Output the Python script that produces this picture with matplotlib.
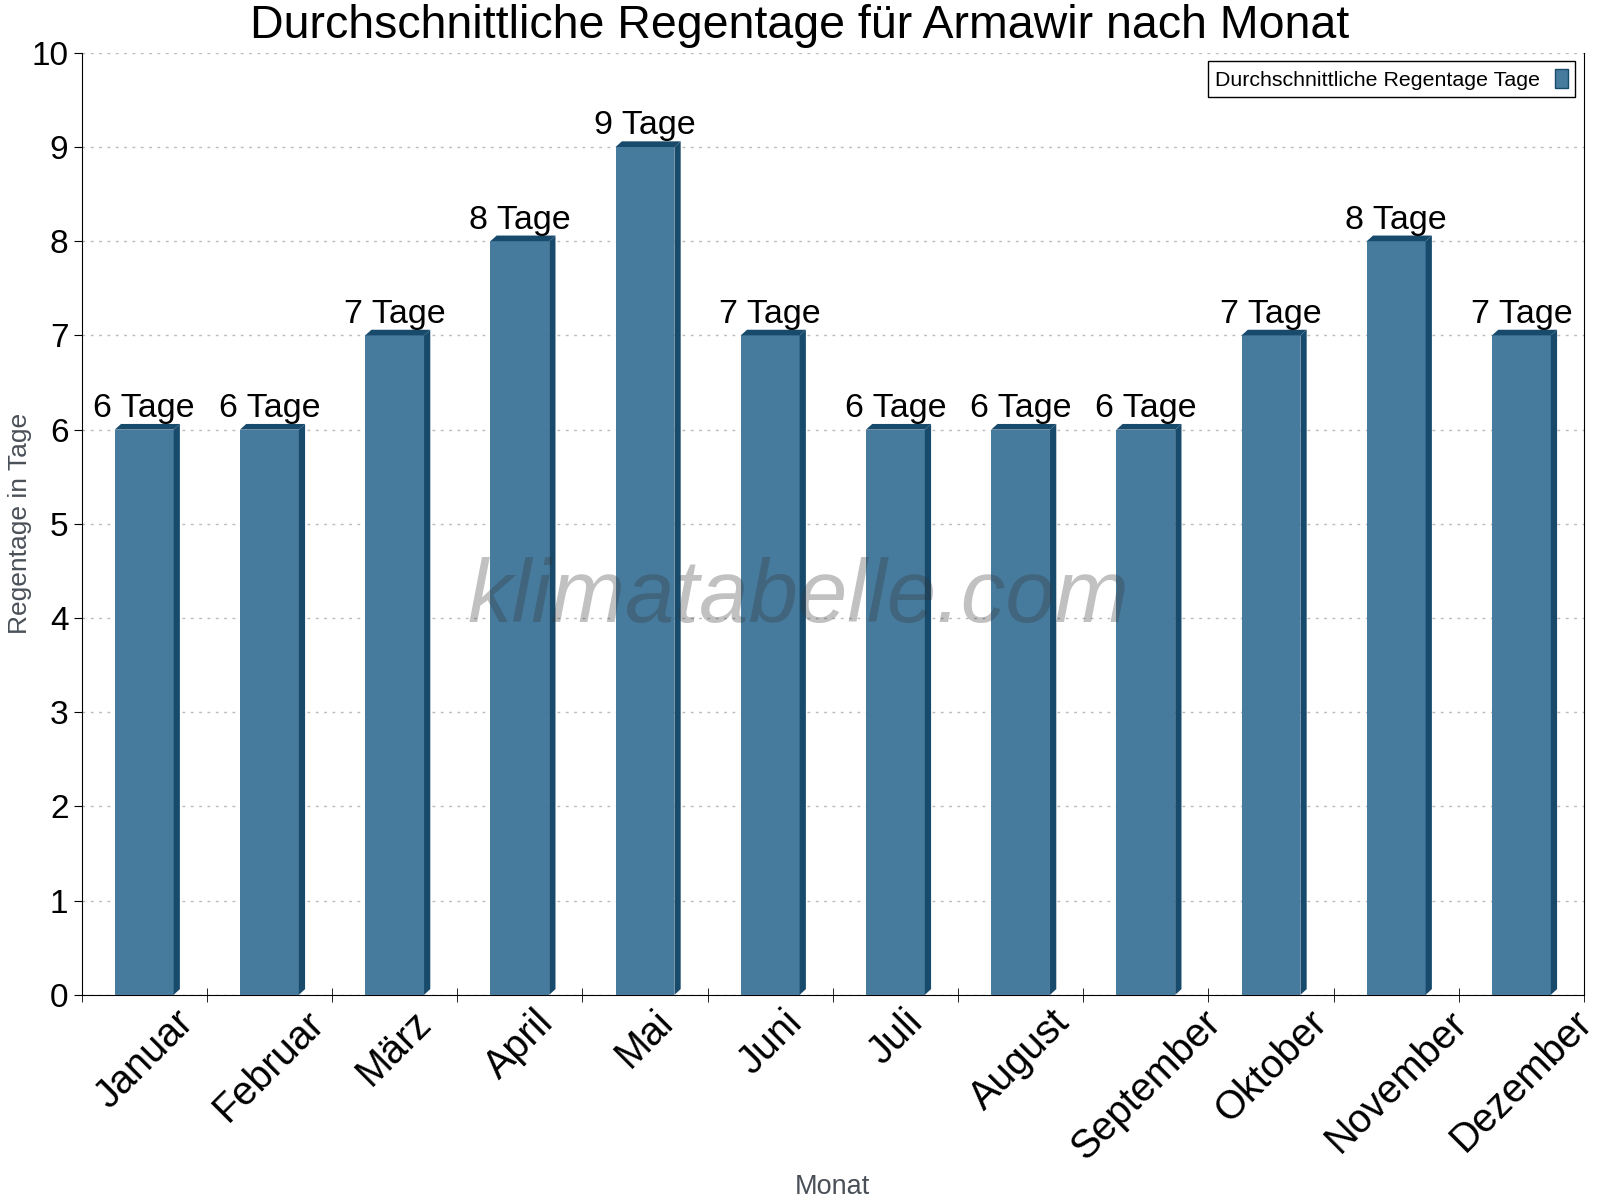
import matplotlib.pyplot as plt
from matplotlib.patches import Polygon

plt.rcParams['font.family'] = ['Liberation Sans', 'DejaVu Sans']

monate = ['Januar', 'Februar', 'März', 'April', 'Mai', 'Juni', 'Juli',
          'August', 'September', 'Oktober', 'November', 'Dezember']
regentage = [6, 6, 7, 8, 9, 7, 6, 6, 6, 7, 8, 7]

front = '#477b9e'
dark = '#184a6c'
bw = 0.47
dx, dy = 0.05, 0.06

fig = plt.figure(figsize=(16, 12), dpi=100)
ax = fig.add_axes([0.051, 0.171, 0.939, 0.785])

x = range(len(monate))
ax.bar(x, regentage, width=bw, color=front, zorder=3,
       label='Durchschnittliche Regentage Tage')
for xi, v in zip(x, regentage):
    x0, x1 = xi - bw / 2, xi + bw / 2
    ax.add_patch(Polygon([(x1, 0), (x1 + dx, dy), (x1 + dx, v + dy), (x1, v)],
                         closed=True, color=dark, zorder=3, lw=0))
    ax.add_patch(Polygon([(x0, v), (x0 + dx, v + dy), (x1 + dx, v + dy), (x1, v)],
                         closed=True, color=dark, zorder=3, lw=0))
    ax.text(xi, v + 0.06, f'{v} Tage', ha='center', va='bottom', fontsize=24.5, zorder=4)

ax.set_xlim(-0.5, 11.5)
ax.set_ylim(0, 10)
ax.set_yticks(range(11))
ax.tick_params(axis='y', labelsize=24, length=6, direction='out')
ax.set_xticks(list(x))
ax.set_xticklabels(monate, rotation=45, ha='center', fontsize=28.5)
ax.set_xticks([i - 0.5 for i in range(13)], minor=True)
ax.tick_params(axis='x', which='major', length=0, pad=6)
ax.tick_params(axis='x', which='minor', length=10, direction='inout')

ax.grid(axis='y', linestyle=(0, (2, 4)), color='#bbbbbb', lw=1, zorder=0)
ax.spines['top'].set_visible(False)
ax.spines['right'].set_visible(True)

ax.set_ylabel('Regentage in Tage', fontsize=19, color='#4a5058', va='center')
ax.yaxis.set_label_coords(-0.0407, 0.5)
ax.set_xlabel('Monat', fontsize=19.5, color='#4a5058', va='center')
ax.xaxis.set_label_coords(0.5, -0.204)
fig.text(0.5, 0.978, 'Durchschnittliche Regentage für Armawir nach Monat',
         fontsize=33.5, ha='center', va='center')

ax.text(0.477, 0.42, 'klimatabelle.com', transform=ax.transAxes, fontsize=64,
        style='italic', color='#333333', alpha=0.3, ha='center', va='center', zorder=5)

leg = ax.legend(loc='upper right', fontsize=15.4, markerfirst=False, fancybox=False,
                edgecolor='black', framealpha=1, handlelength=0.6, handleheight=1.0,
                borderaxespad=0.4, borderpad=0.35, handletextpad=0.7)
leg.get_frame().set_linewidth(1)
for h in leg.legend_handles:
    h.set_edgecolor(dark)

fig.savefig('out.png', dpi=100)
